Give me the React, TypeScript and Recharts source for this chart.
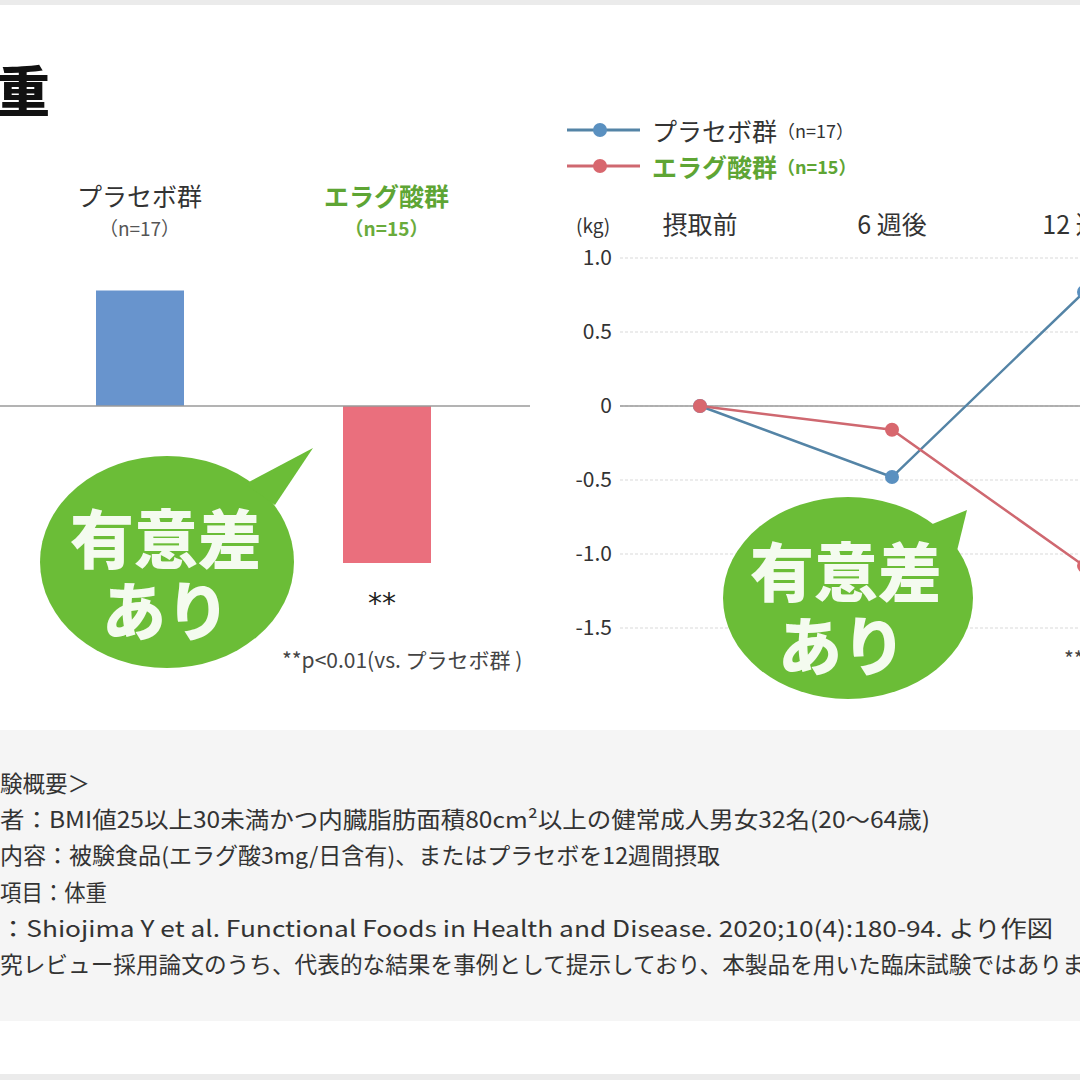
import React from 'react';
import { BarChart, Bar, Cell, XAxis, YAxis, LineChart, Line, CartesianGrid, ReferenceLine } from 'recharts';

const FONT = '"Noto Sans CJK JP", "Noto Sans", sans-serif';

// left: change in body weight after 12 weeks
const groups = ['プラセボ群', 'エラグ酸群'];
const groupCounts = ['（n=17）', '（n=15）'];
const change12w = [0.78, -1.06];
const groupColors = ['#6894cd', '#ea6f7d'];
const groupLabelColors = ['#333333', '#5ea534'];

// right: change over time
const weeks = ['摂取前', '6 週後', '12 週後'];
const placebo = [0, -0.48, 0.77];
const ellagic = [0, -0.16, -1.08];
const yTicks = [1.0, 0.5, 0, -0.5, -1.0, -1.5];
const lineColors = ['#5484a6', '#cf6870'];
const dotColors = ['#5a90c0', '#d8676e'];

const notes = [
  '験概要＞',
  '者：BMI値25以上30未満かつ内臓脂肪面積80cm²以上の健常成人男女32名(20～64歳)',
  '内容：被験食品(エラグ酸3mg/日含有)、またはプラセボを12週間摂取',
  '項目：体重',
  '：Shiojima Y et al. Functional Foods in Health and Disease. 2020;10(4):180-94. より作図',
  '究レビュー採用論文のうち、代表的な結果を事例として提示しており、本製品を用いた臨床試験ではありません。',
];
const noteWidths = [90, 930, 720, 107, 1053, 1152];

const barData = groups.map((g, i) => ({ group: g, value: change12w[i] }));
const lineData = weeks.map((w, i) => ({ week: w, placebo: placebo[i], ellagic: ellagic[i] }));

const GroupTick = (props: any) => {
  const { x, y, index } = props;
  const bold = index === 1;
  return (
    <g>
      <text x={x} y={y - 61} textAnchor="middle" dominantBaseline="central" fontSize={25}
        fontWeight={bold ? 700 : 400} fill={groupLabelColors[index]} fontFamily={FONT}>{groups[index]}</text>
      <text x={x} y={y - 29} textAnchor="middle" dominantBaseline="central" fontSize={19}
        fontWeight={bold ? 700 : 400} fill={bold ? '#6aab3c' : '#555'} fontFamily={FONT}>{groupCounts[index]}</text>
    </g>
  );
};

const WeekTick = (props: any) => {
  const { x, y, payload } = props;
  return (
    <text x={x} y={y - 33} textAnchor="middle" dominantBaseline="central" fontSize={25}
      fill="#333" fontFamily={FONT}>{payload.value}</text>
  );
};

const Bubble = ({ cx, cy, rx, ry, tail, t1, t2 }: any) => (
  <g>
    <ellipse cx={cx} cy={cy} rx={rx} ry={ry} fill="#6bbd37" />
    <polygon points={tail.map((p: number[]) => p.join(',')).join(' ')} fill="#6bbd37" />
    <text x={t1[0]} y={t1[1]} textAnchor="middle" dominantBaseline="central" fontSize={64}
      fontWeight={900} fill="#f4fbef" fontFamily={FONT}>有意差</text>
    <text x={t2[0]} y={t2[1]} textAnchor="middle" dominantBaseline="central" fontSize={64}
      fontWeight={900} fill="#f4fbef" fontFamily={FONT}>あり</text>
  </g>
);

export default function App() {
  return (
    <div style={{ position: 'fixed', left: 0, top: 0, width: 1080, height: 1080, overflow: 'hidden', background: '#fff', fontFamily: FONT }}>
      <div style={{ position: 'absolute', left: 0, top: 0, width: 1080, height: 5, background: '#ebebeb' }} />
      <div style={{ position: 'absolute', left: 0, top: 1074, width: 1080, height: 6, background: '#ebebeb' }} />
      <div style={{ position: 'absolute', left: 0, top: 730, width: 1080, height: 291, background: '#f5f5f5' }} />

      <div style={{ position: 'absolute', left: -4, top: 62, fontSize: 54, fontWeight: 900, color: '#111', lineHeight: 1 }}>重</div>

      <div style={{ position: 'absolute', left: 0, top: 0 }}>
        <BarChart width={540} height={700} data={barData} margin={{ top: 178, right: 10, bottom: 72, left: 0 }}>
          <XAxis dataKey="group" orientation="top" height={80} axisLine={false} tickLine={false} tickSize={0}
            tick={<GroupTick />} padding={{ left: 16, right: 20 }} interval={0} />
          <YAxis hide domain={[-1.5, 1]} />
          <ReferenceLine y={0} stroke="#9a9a9a" strokeWidth={1.5} />
          <Bar dataKey="value" barSize={88} isAnimationActive={false}>
            {barData.map((d, i) => (
              <Cell key={i} fill={groupColors[i]} />
            ))}
          </Bar>
        </BarChart>
      </div>

      <div style={{ position: 'absolute', left: 368, top: 590, fontSize: 28, color: '#222', fontFamily: '"DejaVu Sans"', lineHeight: 1 }}>**</div>
      <div style={{ position: 'absolute', left: 282, top: 644, fontSize: 21, color: '#444', whiteSpace: 'nowrap' }}>**p&lt;0.01(vs. プラセボ群 )</div>

      <div style={{ position: 'absolute', left: 540, top: 0 }}>
        <LineChart width={640} height={700} data={lineData} margin={{ top: 198, right: 16, bottom: 72, left: 0 }}>
          <CartesianGrid vertical={false} strokeDasharray="3 2" stroke="#d9d9d9" />
          <XAxis dataKey="week" orientation="top" height={60} axisLine={false} tickLine={false} tickSize={0}
            tick={<WeekTick />} padding={{ left: 80, right: 80 }} interval={0} />
          <YAxis width={80} domain={[-1.5, 1]} ticks={yTicks} interval={0} axisLine={false} tickLine={false}
            tickSize={0} tickMargin={8} tick={{ fontSize: 21, fill: '#333', fontFamily: FONT }}
            tickFormatter={(v: number) => (v === 0 ? '0' : v.toFixed(1))} />
          <ReferenceLine y={0} stroke="#9a9a9a" strokeWidth={1.5} />
          <Line dataKey="placebo" name="プラセボ群" stroke={lineColors[0]} strokeWidth={2.5} isAnimationActive={false}
            dot={{ r: 7, fill: dotColors[0], stroke: 'none' }} />
          <Line dataKey="ellagic" name="エラグ酸群" stroke={lineColors[1]} strokeWidth={2.5} isAnimationActive={false}
            dot={{ r: 7, fill: dotColors[1], stroke: 'none' }} />
        </LineChart>
      </div>

      {/* legend */}
      <div style={{ position: 'absolute', left: 567, top: 112 }}>
        {groups.map((g, i) => (
          <div key={g} style={{ display: 'flex', alignItems: 'center', height: 36 }}>
            <svg width={85} height={20}>
              <line x1={0} y1={10} x2={73} y2={10} stroke={lineColors[i]} strokeWidth={3} />
              <circle cx={33} cy={10} r={7} fill={dotColors[i]} />
            </svg>
            <span style={{ fontSize: 25, color: groupLabelColors[i], fontWeight: i === 0 ? 400 : 700 }}>{g}</span>
            <span style={{ fontSize: 18, color: groupLabelColors[i], fontWeight: i === 0 ? 400 : 700 }}>{groupCounts[i]}</span>
          </div>
        ))}
      </div>

      <div style={{ position: 'absolute', left: 576, top: 211, fontSize: 19, color: '#333' }}>(kg)</div>
      <div style={{ position: 'absolute', left: 1064, top: 643, fontSize: 21, color: '#444', whiteSpace: 'nowrap' }}>**p&lt;0.01(vs. プラセボ群 )</div>

      <svg width={1080} height={1080} style={{ position: 'absolute', left: 0, top: 0, pointerEvents: 'none' }}>
        <Bubble cx={167} cy={562} rx={127} ry={106} tail={[[245, 484], [313, 448], [275, 505]]} t1={[166, 535]} t2={[166, 607]} />
        <Bubble cx={848} cy={598} rx={125} ry={101} tail={[[930, 525], [967, 510], [956, 555]]} t1={[846, 568]} t2={[842, 642]} />
        {notes.map((t, i) => (
          <text key={i} x={0} y={782 + i * 36.2} dominantBaseline="central" fontSize={22.5} fill="#333"
            fontFamily={FONT} textLength={noteWidths[i]} lengthAdjust="spacingAndGlyphs">{t}</text>
        ))}
      </svg>
    </div>
  );
}
